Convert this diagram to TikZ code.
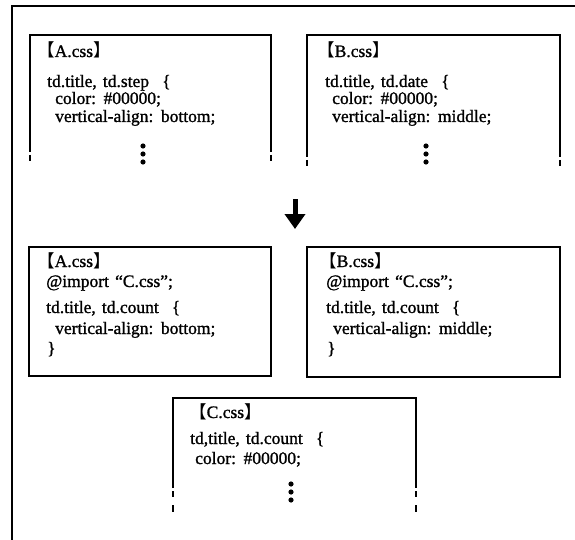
\documentclass[tikz,border=0pt]{standalone}
\usepackage{fontspec}
\newfontfamily\codefont{Liberation Serif}[WordSpace=1.4,FakeBold=1.2]
\newfontfamily\cjk{Noto Sans CJK JP}
\usetikzlibrary{arrows.meta}
\tikzset{
  x=1pt, y=-1pt,
  frameline/.style={line width=1.6pt},
  boxline/.style={line width=1.5pt},
  code/.style={anchor=base west, inner sep=0pt, font=\codefont\fontsize{17.5}{20}\selectfont},
  dotmark/.style={fill=black, draw=none},
  blockarrow/.style={line width=5pt, -{Triangle[width=20pt,length=15pt]}},
}
\newcommand{\lbr}{{\cjk\hspace{-3pt}【}}
\newcommand{\rbr}{{\cjk 】}}
\newcommand{\obr}{\hspace{7pt}\{}
\newcommand{\vdotsmark}[2]{%
  \fill[dotmark] (#1,#2) circle (2.6);
  \fill[dotmark] (#1,#2+8) circle (2.6);
  \fill[dotmark] (#1,#2+16) circle (2.6);}
% open box: left, right, top, end of solid sides
\newcommand{\openbox}[4]{%
  \draw[boxline] (#1,#4) -- (#1,#3) -- (#2,#3) -- (#2,#4);
  \draw[boxline] (#1,#4+3) -- (#1,#4+9);
  \draw[boxline] (#2,#4+3) -- (#2,#4+9);}
\begin{document}
\begin{tikzpicture}
\useasboundingbox (0,0) rectangle (575,540);
% outer frame (top and left edges)
\draw[frameline] (12,541) -- (12,6) -- (576,6);

% ---- top left: A.css ----
\openbox{30}{271}{35}{152}
\node[code] (a1t) at (40,57) {\lbr A.css\rbr};
\node[code] (a1l1) at (47,87) {td.title, td.step \obr};
\node[code] (a1l2) at (55,104) {color: \#00000;};
\node[code] (a1l3) at (55,122) {vertical-align: bottom;};
\vdotsmark{143}{146}

% ---- top right: B.css ----
\openbox{307}{560}{35}{157}
\node[code] (b1t) at (320,57) {\lbr B.css\rbr};
\node[code] (b1l1) at (325,87) {td.title, td.date \obr};
\node[code] (b1l2) at (332,104) {color: \#00000;};
\node[code] (b1l3) at (332,122) {vertical-align: middle;};
\vdotsmark{426}{146}

% ---- arrow ----
\coordinate (arrs) at (295,199);
\coordinate (arre) at (295,229);
\draw[blockarrow] (arrs) -- (arre);

% ---- middle left: A.css ----
\draw[boxline] (29,247) rectangle (271,376);
\node[code] (a2t) at (40,267) {\lbr A.css\rbr};
\node[code] (a2l1) at (46,287) {@import “C.css”;};
\node[code] (a2l2) at (46,313) {td.title, td.count \obr};
\node[code] (a2l3) at (55,334) {vertical-align: bottom;};
\node[code] (a2l4) at (47,354) {\}};

% ---- middle right: B.css ----
\draw[boxline] (307,247) rectangle (560,377);
\node[code] (b2t) at (322,267) {\lbr B.css\rbr};
\node[code] (b2l1) at (326,287) {@import “C.css”;};
\node[code] (b2l2) at (326,313) {td.title, td.count \obr};
\node[code] (b2l3) at (333,334) {vertical-align: middle;};
\node[code] (b2l4) at (327,354) {\}};

% ---- bottom: C.css ----
\openbox{173}{416}{398}{488}
\draw[boxline] (173,505) -- (173,512);
\draw[boxline] (416,505) -- (416,512);
\node[code] (ct) at (192,418) {\lbr C.css\rbr};
\node[code] (cl1) at (190,444) {td,title, td.count \obr};
\node[code] (cl2) at (195,464) {color: \#00000;};
\vdotsmark{291}{484}
\end{tikzpicture}
\end{document}
